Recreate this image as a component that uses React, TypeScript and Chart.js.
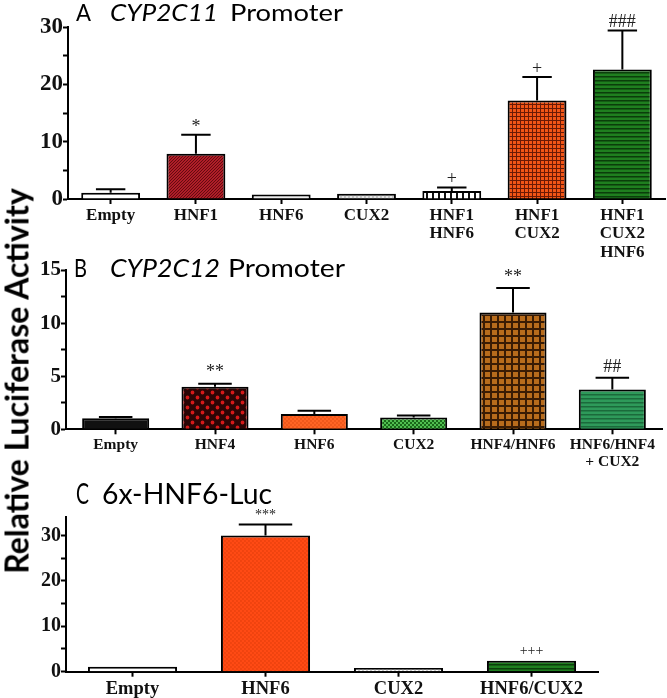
import React, { useEffect, useRef } from 'react';
import { Chart, registerables } from 'chart.js';

Chart.register(...registerables);

// ---------- Panel A : CYP2C11 Promoter ----------
const titleA = ['A', 'CYP2C11', 'Promoter'];
const catsA: (string | string[])[] = ['Empty', 'HNF1', 'HNF6', 'CUX2', ['HNF1', 'HNF6'], ['HNF1', 'CUX2'], ['HNF1', 'CUX2', 'HNF6']];
const valsA = [1.1, 7.9, 0.8, 0.9, 1.4, 17.2, 22.6];
const errA = [0.6, 3.3, 0, 0, 0.6, 4.1, 6.8];
const sigA = ['', '*', '', '', '+', '+', '###'];
const tickLabelsA = [0, 10, 20, 30];

// ---------- Panel B : CYP2C12 Promoter ----------
const titleB = ['B', 'CYP2C12', 'Promoter'];
const catsB: (string | string[])[] = ['Empty', 'HNF4', 'HNF6', 'CUX2', 'HNF4/HNF6', ['HNF6/HNF4', '+ CUX2']];
const valsB = [1.03, 4.0, 1.43, 1.12, 11.0, 3.75];
const errB = [0.12, 0.3, 0.32, 0.18, 2.3, 1.1];
const sigB = ['', '**', '', '', '**', '##'];
const tickLabelsB = [0, 5, 10, 15];

// ---------- Panel C : 6x-HNF6-Luc ----------
const titleC = ['C', '6x-HNF6-Luc'];
const catsC: (string | string[])[] = ['Empty', 'HNF6', 'CUX2', 'HNF6/CUX2'];
const valsC = [1.1, 30.0, 0.8, 2.4];
const errC = [0, 2.4, 0, 0];
const sigC = ['', '***', '', '+++'];
const tickLabelsC = [0, 10, 20, 30];

const yAxisTitle = 'Relative Luciferase Activity';

type Fill = { type: string; bg: string; fg?: string; size?: number; lw?: number; r?: number };

const fillsA: Fill[] = [
  { type: 'solid', bg: '#ffffff' },
  { type: 'diag', bg: '#b01e28', fg: '#650a10', size: 3, lw: 1 },
  { type: 'solid', bg: '#eeeeee' },
  { type: 'dots', bg: '#e6e6e6', fg: '#8a8a8a', size: 4, r: 0.7 },
  { type: 'vline', bg: '#ffffff', fg: '#111111', size: 6, lw: 2 },
  { type: 'grid', bg: '#f25516', fg: '#6a1a05', size: 4, lw: 1 },
  { type: 'hline', bg: '#1f7f1f', fg: '#0b3d0b', size: 4, lw: 1.5 },
];
const fillsB: Fill[] = [
  { type: 'solid', bg: '#111111' },
  { type: 'dots', bg: '#2a0505', fg: '#d41a1a', size: 10, r: 1.9 },
  { type: 'dots', bg: '#ff6424', fg: '#d8460e', size: 4, r: 0.7 },
  { type: 'checker', bg: '#1a6a1a', fg: '#50c050', size: 4 },
  { type: 'grid', bg: '#b86c1c', fg: '#3a1c04', size: 7, lw: 2 },
  { type: 'hline', bg: '#2e9a5a', fg: '#1b6a3b', size: 4, lw: 1.5 },
];
const fillsC: Fill[] = [
  { type: 'solid', bg: '#ffffff' },
  { type: 'dots', bg: '#ff4a14', fg: '#d83a0a', size: 4, r: 0.7 },
  { type: 'dots', bg: '#ffffff', fg: '#777777', size: 4, r: 0.7 },
  { type: 'hline', bg: '#1f7f1f', fg: '#0b3d0b', size: 4, lw: 1.5 },
];

type TitlePart = { x: number; w: number; italic: boolean };

const panels = [
  {
    top: 0, height: 262, padTop: 27, plotBottom: 199, yWidth: 68, padRight: 2,
    labels: catsA, values: valsA, errors: errA, sig: sigA, tickLabels: tickLabelsA,
    max: 30, step: 5, fills: fillsA, barPct: 0.69, capPct: 0.5,
    xFont: 17, yFont: 23, sigFont: 18, sigOffset: 8,
    title: titleA, titleSize: 24, titleBase: 21,
    titleParts: [{ x: 76, w: 15, italic: false }, { x: 110, w: 108, italic: true }, { x: 230, w: 113, italic: false }] as TitlePart[],
  },
  {
    top: 230, height: 240, padTop: 40, plotBottom: 199.3, yWidth: 66, padRight: 5,
    labels: catsB, values: valsB, errors: errB, sig: sigB, tickLabels: tickLabelsB,
    max: 15, step: 2.5, fills: fillsB, barPct: 0.675, capPct: 0.5,
    xFont: 15.5, yFont: 21, sigFont: 18, sigOffset: 11,
    title: titleB, titleSize: 25, titleBase: 47,
    titleParts: [{ x: 74, w: 13, italic: false }, { x: 110, w: 110, italic: true }, { x: 228, w: 117, italic: false }] as TitlePart[],
  },
  {
    top: 460, height: 238, padTop: 57.3, plotBottom: 211.7, yWidth: 66, padRight: 69,
    labels: catsC, values: valsC, errors: errC, sig: sigC, tickLabels: tickLabelsC,
    max: 34, step: 5, fills: fillsC, barPct: 0.67, capPct: 0.6,
    xFont: 18.5, yFont: 20, sigFont: 14, sigOffset: 9,
    title: titleC, titleSize: 29, titleBase: 44,
    titleParts: [{ x: 76, w: 13, italic: false }, { x: 102, w: 170, italic: false }] as TitlePart[],
  },
];

function makeFill(ctx: CanvasRenderingContext2D, f: Fill): any {
  if (f.type === 'solid') return f.bg;
  const s = f.size || 4;
  const c = document.createElement('canvas');
  c.width = s;
  c.height = s;
  const g = c.getContext('2d')!;
  g.fillStyle = f.bg;
  g.fillRect(0, 0, s, s);
  g.fillStyle = f.fg || '#000';
  g.strokeStyle = f.fg || '#000';
  const lw = f.lw || 1;
  if (f.type === 'diag') {
    g.lineWidth = lw;
    g.beginPath();
    g.moveTo(0, s); g.lineTo(s, 0);
    g.moveTo(-1, 1); g.lineTo(1, -1);
    g.moveTo(s - 1, s + 1); g.lineTo(s + 1, s - 1);
    g.stroke();
  } else if (f.type === 'grid') {
    g.fillRect(0, 0, s, lw);
    g.fillRect(0, 0, lw, s);
  } else if (f.type === 'hline') {
    g.fillRect(0, 0, s, lw);
  } else if (f.type === 'vline') {
    g.fillRect(0, 0, lw, s);
  } else if (f.type === 'dots') {
    const r = f.r || 1;
    g.beginPath();
    g.arc(s / 4, s / 4, r, 0, Math.PI * 2);
    g.arc((3 * s) / 4, (3 * s) / 4, r, 0, Math.PI * 2);
    g.fill();
  } else if (f.type === 'checker') {
    g.fillRect(0, 0, s / 2, s / 2);
    g.fillRect(s / 2, s / 2, s / 2, s / 2);
  }
  return ctx.createPattern(c, 'repeat');
}

function Panel({ cfg }: { cfg: any }) {
  const ref = useRef<HTMLCanvasElement>(null);
  useEffect(() => {
    const canvas = ref.current!;
    const ctx = canvas.getContext('2d')!;
    const bgs = cfg.fills.map((f: Fill) => makeFill(ctx, f));

    const errPlugin = {
      id: 'errs',
      afterDatasetsDraw(chart: any) {
        const meta = chart.getDatasetMeta(0);
        const y = chart.scales.y;
        const c = chart.ctx;
        c.save();
        c.strokeStyle = '#000';
        c.lineWidth = 2;
        meta.data.forEach((el: any, i: number) => {
          const e = cfg.errors[i];
          const top = y.getPixelForValue(cfg.values[i] + e);
          const capW = el.width * cfg.capPct;
          if (e > 0) {
            c.beginPath();
            c.moveTo(el.x, el.y);
            c.lineTo(el.x, top);
            c.moveTo(el.x - capW / 2, top);
            c.lineTo(el.x + capW / 2, top);
            c.stroke();
          }
          const s = cfg.sig[i];
          if (s) {
            c.fillStyle = '#222';
            c.font = `${cfg.sigFont}px "Liberation Serif", serif`;
            c.textAlign = 'center';
            c.textBaseline = 'middle';
            c.fillText(s, el.x, top - cfg.sigOffset);
          }
        });
        c.restore();
      },
    };

    const titlePlugin = {
      id: 'paneltitle',
      afterDraw(chart: any) {
        const c = chart.ctx;
        c.save();
        c.fillStyle = '#000';
        c.textAlign = 'left';
        c.textBaseline = 'alphabetic';
        cfg.title.forEach((t: string, i: number) => {
          const p: TitlePart = cfg.titleParts[i];
          c.font = `${p.italic ? 'italic ' : ''}${cfg.titleSize}px Lato, "Open Sans", sans-serif`;
          const w = c.measureText(t).width;
          c.save();
          c.translate(p.x, cfg.titleBase);
          c.scale(p.w / w, 1);
          c.fillText(t, 0, 0);
          c.restore();
        });
        c.restore();
      },
    };

    const serif = '"Liberation Serif", "Times New Roman", serif';
    const chart = new Chart(canvas, {
      type: 'bar',
      data: {
        labels: cfg.labels,
        datasets: [
          {
            data: cfg.values,
            backgroundColor: bgs,
            borderColor: '#000',
            borderWidth: 2,
            borderSkipped: 'start',
            barPercentage: cfg.barPct,
            categoryPercentage: 1,
          },
        ],
      },
      options: {
        animation: false,
        responsive: true,
        maintainAspectRatio: false,
        events: [],
        layout: { padding: { top: cfg.padTop, right: cfg.padRight, left: 0, bottom: 0 } },
        plugins: { legend: { display: false }, tooltip: { enabled: false }, title: { display: false } },
        scales: {
          x: {
            type: 'category',
            offset: true,
            z: 1,
            grid: { display: true, drawOnChartArea: false, drawTicks: true, tickLength: 5, tickWidth: 2, tickColor: '#000', offset: false },
            border: { display: true, color: '#000', width: 2 },
            ticks: {
              color: '#111',
              font: { family: serif, weight: 'bold', size: cfg.xFont, lineHeight: 1.1 },
              padding: 2,
              maxRotation: 0,
              minRotation: 0,
              autoSkip: false,
            },
            afterFit: (s: any) => {
              s.height = cfg.height - cfg.plotBottom;
            },
          },
          y: {
            min: 0,
            max: cfg.max,
            grid: { display: true, drawOnChartArea: false, drawTicks: true, tickLength: 5, tickWidth: 2, tickColor: '#000' },
            border: { display: true, color: '#000', width: 2 },
            ticks: {
              stepSize: cfg.step,
              includeBounds: false,
              autoSkip: false,
              color: '#111',
              padding: 0,
              font: { family: serif, weight: 'bold', size: cfg.yFont },
              callback: (v: any) => (cfg.tickLabels.includes(Number(v)) ? String(v) : ''),
            },
            afterFit: (s: any) => {
              s.width = cfg.yWidth;
            },
          },
        },
      } as any,
      plugins: [errPlugin, titlePlugin],
    });
    return () => chart.destroy();
  }, []);
  return (
    <div style={{ position: 'absolute', left: 0, top: cfg.top, width: 667, height: cfg.height }}>
      <canvas ref={ref} />
    </div>
  );
}

export default function App() {
  return (
    <div style={{ position: 'absolute', left: 0, top: 0, width: 667, height: 698, background: '#fff', overflow: 'hidden' }}>
      {panels.map((p, i) => (
        <Panel key={i} cfg={p} />
      ))}
      <div
        style={{
          position: 'absolute',
          left: 16,
          top: 381,
          transform: 'translate(-50%, -50%) rotate(-90deg)',
          whiteSpace: 'nowrap',
          fontFamily: 'Lato, "Open Sans", sans-serif',
          fontWeight: 'bold',
          fontSize: 32,
          color: '#000',
        }}
      >
        {yAxisTitle}
      </div>
    </div>
  );
}
